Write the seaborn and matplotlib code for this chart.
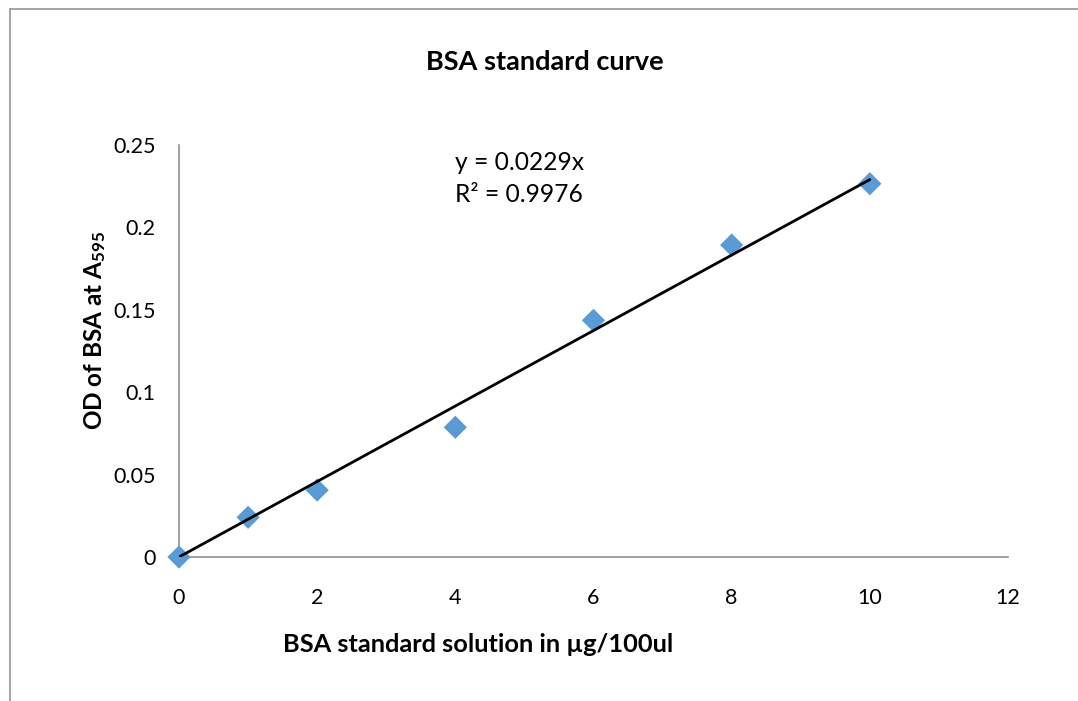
import numpy as np
import pandas as pd
import matplotlib
matplotlib.use("Agg")
import matplotlib.pyplot as plt
from matplotlib.lines import Line2D
import seaborn as sns

# ---- data ----
concentration = [0, 1, 2, 4, 6, 8, 10]
od_values = [0.0, 0.0241, 0.0406, 0.0787, 0.1436, 0.1893, 0.2265]
x_ticks = [0, 2, 4, 6, 8, 10, 12]
y_ticks = [0, 0.05, 0.1, 0.15, 0.2, 0.25]
y_tick_labels = ["0", "0.05", "0.1", "0.15", "0.2", "0.25"]
title = "BSA standard curve"
x_label = "BSA standard solution in µg/100ul"
y_label = r"OD of BSA at $\mathbf{A_{595}}$"
eq_text = "y = 0.0229x"
r2_text = "R² = 0.9976"

df = pd.DataFrame({"conc": concentration, "od": od_values})
slope = float(np.sum(df.conc * df.od) / np.sum(df.conc ** 2))
fit_df = pd.DataFrame({"conc": [0, 10]})
fit_df["fit"] = slope * fit_df["conc"]

sns.set_theme(style="white")
plt.rcParams["font.family"] = ["Lato", "DejaVu Sans"]
plt.rcParams["mathtext.fontset"] = "custom"
plt.rcParams["mathtext.rm"] = "Lato"
plt.rcParams["mathtext.bf"] = "Lato:weight=bold"

W, H = 1078, 701
fig = plt.figure(figsize=(W / 100, H / 100), dpi=100)
ax = fig.add_axes([179 / W, 1 - 557 / H, (1008 - 179) / W, (557 - 145) / H])

sns.scatterplot(data=df, x="conc", y="od", ax=ax, marker="D", s=140,
                color="#5B9BD5", edgecolor="none", linewidth=0, zorder=3,
                clip_on=False)
sns.lineplot(data=fit_df, x="conc", y="fit", ax=ax, color="black",
             linewidth=2.0, zorder=4)

ax.set_xlim(0, 12)
ax.set_ylim(0, 0.25)
ax.set_xticks(x_ticks)
ax.set_xticklabels([str(t) for t in x_ticks])
ax.set_yticks(y_ticks)
ax.set_yticklabels(y_tick_labels)

for s in ["top", "right"]:
    ax.spines[s].set_visible(False)
for s in ["left", "bottom"]:
    ax.spines[s].set_color("#868686")
    ax.spines[s].set_linewidth(1.1)

ax.tick_params(axis="both", which="major", direction="out", length=5,
               width=1.1, color="#868686", labelsize=15.5, labelcolor="black")
ax.tick_params(axis="y", pad=12)
ax.tick_params(axis="x", pad=17)

ax.set_xlabel(x_label, fontsize=18.3, fontweight="bold", color="black")
ax.set_ylabel(y_label, fontsize=17.5, fontweight="bold", color="black")
ax.xaxis.set_label_coords((478 - 179) / (1008 - 179), (557 - 644) / (557 - 145))
ax.xaxis.label.set_verticalalignment("center")
ax.yaxis.set_label_coords((95 - 179) / (1008 - 179), (557 - 330) / (557 - 145))
ax.yaxis.label.set_verticalalignment("center")

fig.text(545 / W, 1 - 62 / H, title, ha="center", va="center",
         fontsize=19.5, fontweight="bold", color="black")

fig.text(455 / W, 1 - 162 / H, eq_text, ha="left", va="center",
         fontsize=17.7, color="black")
fig.text(455 / W, 1 - 195 / H, r2_text, ha="left", va="center",
         fontsize=17.7, color="black")

# chart-area border (left and top edges visible)
fig.add_artist(Line2D([9.5 / W, 9.5 / W], [0, 1 - 8.5 / H],
                      transform=fig.transFigure, color="#8c8c8c", linewidth=1.1))
fig.add_artist(Line2D([9.5 / W, 1], [1 - 8.5 / H, 1 - 8.5 / H],
                      transform=fig.transFigure, color="#8c8c8c", linewidth=1.1))

fig.savefig("out.png", dpi=100)
